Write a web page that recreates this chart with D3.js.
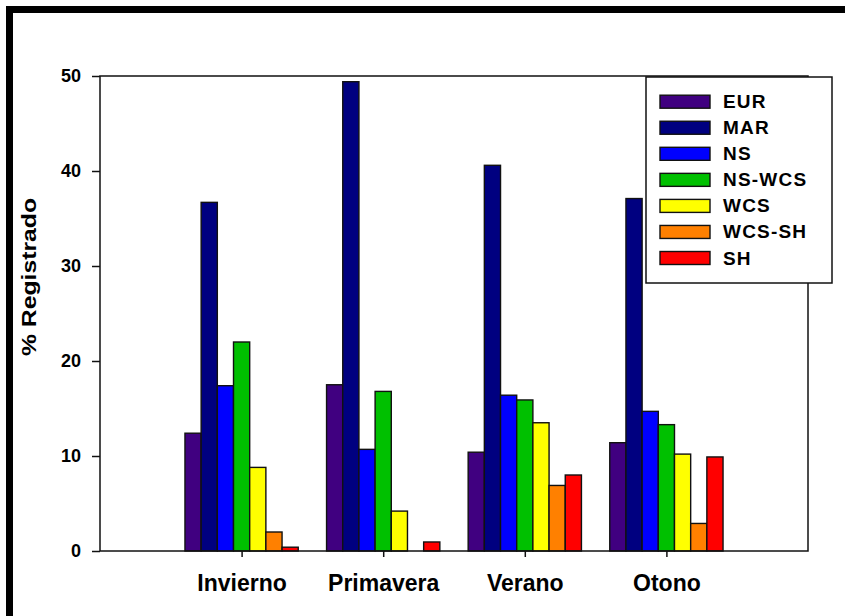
<!DOCTYPE html>
<html>
<head>
<meta charset="utf-8">
<script src="https://cdn.jsdelivr.net/npm/d3@7"></script>
<style>
    body { margin: 0; background: #fff; }
    text { font-family: "Liberation Sans", Arial, sans-serif; font-weight: bold; fill: #000; }
</style>
</head>
<body>
<svg width="845" height="616"></svg>
<script>
const seasons = ["Invierno", "Primavera", "Verano", "Otono"];
const regions = ["EUR", "MAR", "NS", "NS-WCS", "WCS", "WCS-SH", "SH"];
const regionColors = ["#400080", "#000080", "#0000FF", "#00C000", "#FFFF00", "#FF8000", "#FF0000"];

// % registrado por estacion, una lista por region
const eur = [12.4, 17.5, 10.4, 11.4];
const mar = [36.7, 49.4, 40.6, 37.1];
const ns = [17.4, 10.7, 16.4, 14.7];
const nsWcs = [22.0, 16.8, 15.9, 13.3];
const wcs = [8.8, 4.2, 13.5, 10.2];
const wcsSh = [2.0, 0, 6.9, 2.9];
const sh = [0.4, 0.95, 8.0, 9.9];
const yTicks = [0, 10, 20, 30, 40, 50];

const series = [eur, mar, ns, nsWcs, wcs, wcsSh, sh];

const svg = d3.select("svg");
const plotLeft = 100, plotRight = 808, plotTop = 76, plotBottom = 551;

// outer frame (only top and left survive the crop)
svg.append("path")
    .attr("d", "M9.5,616V9.5H845")
    .attr("fill", "none")
    .attr("stroke", "#000")
    .attr("stroke-width", 7);

const x = d3.scalePoint()
    .domain(seasons)
    .range([plotLeft, plotRight])
    .padding(1);

const inner = d3.scaleBand()
    .domain(regions)
    .range([-0.4 * x.step(), 0.4 * x.step()]);

const y = d3.scaleLinear()
    .domain([0, 50])
    .range([plotBottom, plotTop]);

// bars
series.forEach((vals, i) => {
    svg.append("g")
        .selectAll("rect")
        .data(vals.map((v, j) => ({ season: seasons[j], value: v })).filter(d => d.value > 0))
        .join("rect")
        .attr("x", d => x(d.season) + inner(regions[i]))
        .attr("y", d => y(d.value))
        .attr("width", inner.bandwidth())
        .attr("height", d => y(0) - y(d.value))
        .attr("fill", regionColors[i])
        .attr("stroke", "#111")
        .attr("stroke-width", 1.4);
});

// plot frame
svg.append("rect")
    .attr("x", plotLeft)
    .attr("y", plotTop)
    .attr("width", plotRight - plotLeft)
    .attr("height", plotBottom - plotTop)
    .attr("fill", "none")
    .attr("stroke", "#111")
    .attr("stroke-width", 1.5);

const yAxis = svg.append("g")
    .attr("transform", `translate(${plotLeft},0)`)
    .call(d3.axisLeft(y).tickValues(yTicks).tickSize(8).tickPadding(11));
yAxis.select(".domain").remove();
yAxis.selectAll("line").attr("stroke", "#111").attr("stroke-width", 1.5);
yAxis.selectAll("text").style("font-size", "18px").attr("font-family", null).attr("fill", "#000");

const xAxis = svg.append("g")
    .attr("transform", `translate(0,${plotBottom})`)
    .call(d3.axisBottom(x).tickSize(6).tickPadding(18));
xAxis.select(".domain").remove();
xAxis.selectAll("line").attr("stroke", "#111").attr("stroke-width", 1.5);
xAxis.selectAll("text").style("font-size", "23px").attr("font-family", null).attr("fill", "#000");

svg.append("text")
    .attr("transform", "translate(36,277) rotate(-90)")
    .attr("text-anchor", "middle")
    .attr("textLength", 158)
    .attr("lengthAdjust", "spacingAndGlyphs")
    .style("font-size", "21px")
    .text("% Registrado");

// legend
const legend = svg.append("g");
legend.append("rect")
    .attr("x", 646)
    .attr("y", 77)
    .attr("width", 186)
    .attr("height", 206)
    .attr("fill", "#fff")
    .attr("stroke", "#111")
    .attr("stroke-width", 1.5);

const row = d3.scaleLinear().domain([0, 6]).range([101.7, 258]);
regions.forEach((name, i) => {
    legend.append("rect")
        .attr("x", 660)
        .attr("y", row(i) - 6.5)
        .attr("width", 50)
        .attr("height", 13)
        .attr("fill", regionColors[i])
        .attr("stroke", "#111")
        .attr("stroke-width", 1.4);
    legend.append("text")
        .attr("x", 723)
        .attr("y", row(i))
        .attr("dominant-baseline", "central")
        .style("font-size", "19px")
        .style("letter-spacing", "1.2px")
        .text(name);
});
</script>
</body>
</html>
